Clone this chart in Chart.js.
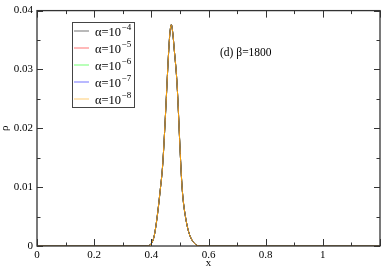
<!DOCTYPE html>
<html>
<head>
<meta charset="utf-8">
<script src="https://cdn.jsdelivr.net/npm/chart.js@4"></script>
<style>
  html, body { margin: 0; padding: 0; background: #fff; }
  #plot { display: block; }
</style>
</head>
<body>
<canvas id="plot" width="382" height="267"></canvas>
<script>
// density profile (all five alpha curves overlap)
const xs  = [0, 0.38, 0.40, 0.41, 0.42, 0.43, 0.44, 0.45, 0.46, 0.465, 0.47, 0.475, 0.48, 0.49, 0.50, 0.505, 0.51, 0.52, 0.53, 0.54, 0.55, 0.56, 0.58, 1.2];
const rho = [0, 0, 0.0004, 0.0017, 0.0048, 0.0090, 0.0140, 0.0228, 0.0325, 0.0362, 0.0376, 0.0362, 0.0335, 0.0275, 0.0170, 0.0120, 0.0085, 0.0048, 0.0025, 0.0012, 0.0005, 0.0001, 0, 0];

const alphaExp = ['-4', '-5', '-6', '-7', '-8'];
const lineColors = ['#000000', '#ff0000', '#00ff00', '#0000ff', '#ffa500'];

const xTicks = [0, 0.2, 0.4, 0.6, 0.8, 1.0];
const yTicks = [0, 0.01, 0.02, 0.03, 0.04];

const serif = '"Liberation Serif", "DejaVu Serif", serif';

const datasets = alphaExp.map((e, i) => ({
    label: 'α=10^' + e,
    data: xs.map((x, k) => ({ x: x, y: rho[k] })),
    borderColor: lineColors[i],
    borderWidth: 1,
    pointRadius: 0,
    fill: false,
    cubicInterpolationMode: 'monotone',
    order: alphaExp.length - 1 - i
}));

// xmgrace-like frame with inward ticks on all four sides
const framePlugin = {
    id: 'frame',
    afterDraw(chart) {
        const ctx = chart.ctx;
        const a = chart.chartArea;
        const sx = chart.scales.x, sy = chart.scales.y;
        ctx.save();
        ctx.strokeStyle = '#333';
        ctx.lineWidth = 1.3;
        ctx.strokeRect(a.left, a.top, a.right - a.left, a.bottom - a.top);
        ctx.lineWidth = 1;
        ctx.beginPath();
        for (let v = 0; v <= 1.2001; v += 0.1) {
            const px = Math.round(sx.getPixelForValue(v)) + 0.5;
            const major = Math.abs(v / 0.2 - Math.round(v / 0.2)) < 1e-6;
            const len = major ? 7 : 3.5;
            ctx.moveTo(px, a.bottom); ctx.lineTo(px, a.bottom - len);
            ctx.moveTo(px, a.top); ctx.lineTo(px, a.top + len);
        }
        for (let v = 0; v <= 0.04001; v += 0.005) {
            const py = Math.round(sy.getPixelForValue(v)) + 0.5;
            const major = Math.abs(v / 0.01 - Math.round(v / 0.01)) < 1e-6;
            const len = major ? 6 : 3.5;
            ctx.moveTo(a.left, py); ctx.lineTo(a.left + len, py);
            ctx.moveTo(a.right, py); ctx.lineTo(a.right - len, py);
        }
        ctx.stroke();

        // annotation
        ctx.fillStyle = '#000';
        ctx.font = '11.5px ' + serif;
        ctx.textBaseline = 'middle';
        ctx.fillText('(d) β=1800', 220, 53);
        ctx.restore();
    }
};

// legend box with superscript exponents
const legendPlugin = {
    id: 'boxLegend',
    afterDraw(chart) {
        const ctx = chart.ctx;
        ctx.save();
        ctx.fillStyle = '#fff';
        ctx.fillRect(72, 23, 63, 85);
        ctx.strokeStyle = '#444';
        ctx.lineWidth = 1;
        ctx.strokeRect(72.5, 22.5, 62, 85);
        chart.data.datasets.forEach((ds, i) => {
            const y = 31 + i * 17;
            ctx.strokeStyle = ds.borderColor;
            ctx.globalAlpha = 0.55;
            ctx.beginPath();
            ctx.moveTo(74, y);
            ctx.lineTo(89, y);
            ctx.stroke();
            ctx.globalAlpha = 1;
            ctx.fillStyle = '#000';
            ctx.textBaseline = 'alphabetic';
            ctx.font = '12.5px ' + serif;
            const base = 'α=10';
            ctx.fillText(base, 95, y + 5);
            const w = ctx.measureText(base).width;
            ctx.font = '9px ' + serif;
            ctx.fillText(alphaExp[i].replace('-', '−'), 95 + w + 0.5, y - 1.5);
        });
        ctx.restore();
    }
};

new Chart(document.getElementById('plot').getContext('2d'), {
    type: 'line',
    data: { datasets: datasets },
    plugins: [framePlugin, legendPlugin],
    options: {
        responsive: false,
        animation: false,
        layout: { padding: { top: 5, right: 2, left: 0, bottom: 0 } },
        plugins: { legend: { display: false }, tooltip: { enabled: false } },
        scales: {
            x: {
                type: 'linear',
                min: 0,
                max: 1.2,
                afterFit: s => { s.height = 21; },
                afterBuildTicks: s => { s.ticks = xTicks.map(v => ({ value: v })); },
                grid: { display: false, drawTicks: false },
                border: { display: false },
                ticks: {
                    padding: 3,
                    color: '#000',
                    font: { family: serif, size: 11 },
                    maxRotation: 0,
                    callback: v => (v === 0 || Math.abs(v - 1) < 1e-9) ? String(Math.round(v)) : v.toFixed(1)
                },
                title: { display: true, text: 'x', color: '#000', font: { family: serif, size: 11 }, padding: { top: 0, bottom: -3 } }
            },
            y: {
                type: 'linear',
                min: 0,
                max: 0.04,
                afterFit: s => { s.width = 37; },
                afterBuildTicks: s => { s.ticks = yTicks.map(v => ({ value: v })); },
                grid: { display: false, drawTicks: false },
                border: { display: false },
                ticks: {
                    padding: 4,
                    color: '#000',
                    font: { family: serif, size: 11 },
                    callback: v => v === 0 ? '0' : v.toFixed(2)
                },
                title: { display: true, text: 'ρ', color: '#000', font: { family: serif, size: 11 }, padding: { top: -1, bottom: 0 } }
            }
        }
    }
});
</script>
</body>
</html>
